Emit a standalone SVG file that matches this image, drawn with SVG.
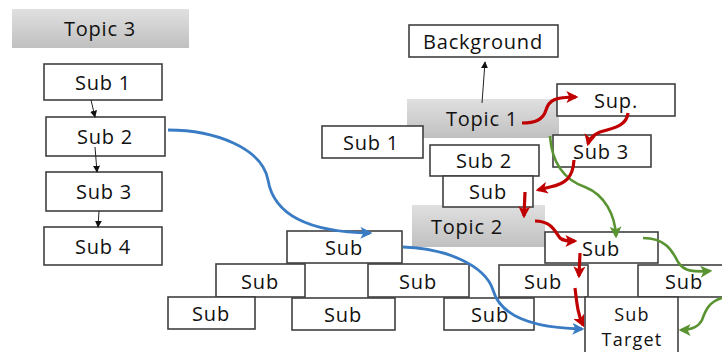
<svg xmlns="http://www.w3.org/2000/svg" width="722" height="352" viewBox="0 0 722 352">
  <defs>
    <linearGradient id="topicFill" x1="0" y1="0" x2="0" y2="1">
      <stop offset="0" stop-color="#e0e0e0"/>
      <stop offset="1" stop-color="#c0c0c0"/>
    </linearGradient>
    <marker id="ahBlack" viewBox="0 0 10 10" refX="9" refY="5" markerWidth="7" markerHeight="7" orient="auto" markerUnits="userSpaceOnUse">
      <path d="M0,0 L10,5 L0,10 z" fill="#111"/>
    </marker>
    <marker id="ahRed" viewBox="0 0 10 10" refX="8" refY="5" markerWidth="12" markerHeight="12" orient="auto" markerUnits="userSpaceOnUse">
      <path d="M0,0 L10,5 L0,10 L2.5,5 z" fill="#c00000"/>
    </marker>
    <marker id="ahGreen" viewBox="0 0 10 10" refX="8" refY="5" markerWidth="12" markerHeight="12" orient="auto" markerUnits="userSpaceOnUse">
      <path d="M0,0 L10,5 L0,10 L2.5,5 z" fill="#5a9432"/>
    </marker>
    <marker id="ahBlue" viewBox="0 0 10 10" refX="8" refY="5" markerWidth="12" markerHeight="12" orient="auto" markerUnits="userSpaceOnUse">
      <path d="M0,0 L10,5 L0,10 L2.5,5 z" fill="#3a7cc4"/>
    </marker>
  </defs>
  <style>
    .box { fill: #ffffff; stroke: #404040; stroke-width: 1.6; }
    .topic { fill: url(#topicFill); stroke: none; }
    .lbl { font-family: "Open Sans", "Liberation Sans", sans-serif; font-size: 20px; letter-spacing: 0.8px; fill: #111111; text-anchor: middle; dominant-baseline: central; }
    .lbl2 { font-size: 18px; letter-spacing: 1.2px; }
    .thin { fill: none; stroke: #222; stroke-width: 1; marker-end: url(#ahBlack); }
    .red { fill: none; stroke: #c00000; stroke-width: 3.2; marker-end: url(#ahRed); }
    .green { fill: none; stroke: #5a9432; stroke-width: 2.6; marker-end: url(#ahGreen); }
    .blue { fill: none; stroke: #3a7cc4; stroke-width: 2.8; marker-end: url(#ahBlue); }
  </style>

  <rect width="722" height="352" fill="#ffffff"/>

  <!-- left column -->
  <g id="topic3"><rect class="topic" x="12" y="9" width="177" height="39"/><text class="lbl" x="100" y="28">Topic 3</text></g>
  <g id="l-sub1"><rect class="box" x="44" y="64" width="118" height="36"/><text class="lbl" x="103" y="82">Sub 1</text></g>
  <g id="l-sub2"><rect class="box" x="46" y="117" width="119" height="39"/><text class="lbl" x="105" y="136">Sub 2</text></g>
  <g id="l-sub3"><rect class="box" x="46" y="172" width="116" height="39"/><text class="lbl" x="104" y="191">Sub 3</text></g>
  <g id="l-sub4"><rect class="box" x="44" y="227" width="118" height="38"/><text class="lbl" x="103" y="246">Sub 4</text></g>

  <!-- upper right cluster -->
  <g id="background"><rect class="box" x="409" y="25" width="149" height="32"/><text class="lbl" x="483" y="41">Background</text></g>
  <g id="topic1"><rect class="topic" x="407" y="99" width="152" height="39"/><text class="lbl" x="482" y="118">Topic 1</text></g>
  <g id="r-sub1"><rect class="box" x="322" y="126" width="101" height="32"/><text class="lbl" x="371" y="142">Sub 1</text></g>
  <g id="sup"><rect class="box" x="557" y="84" width="118" height="32"/><text class="lbl" x="616" y="100">Sup.</text></g>
  <g id="r-sub3"><rect class="box" x="553" y="135" width="98" height="32"/><text class="lbl" x="601" y="151">Sub 3</text></g>
  <g id="m-sub2"><rect class="box" x="430" y="145" width="109" height="31"/><text class="lbl" x="484" y="160">Sub 2</text></g>
  <g id="topic2"><rect class="topic" x="412" y="205" width="133" height="42"/><text class="lbl" x="467" y="226">Topic 2</text></g>
  <g id="m-sub"><rect class="box" x="443" y="176" width="90" height="31"/><text class="lbl" x="488" y="191">Sub</text></g>

  <!-- lower stack -->
  <g id="s-top"><rect class="box" x="287" y="231" width="115" height="32"/><text class="lbl" x="344" y="247">Sub</text></g>
  <g id="s-right"><rect class="box" x="545" y="232" width="113" height="31"/><text class="lbl" x="601" y="248">Sub</text></g>
  <g id="r2-a"><rect class="box" x="216" y="264" width="89" height="33"/><text class="lbl" x="260" y="281">Sub</text></g>
  <g id="r2-b"><rect class="box" x="368" y="264" width="101" height="33"/><text class="lbl" x="418" y="281">Sub</text></g>
  <g id="r2-c"><rect class="box" x="499" y="265" width="89" height="32"/><text class="lbl" x="543" y="281">Sub</text></g>
  <g id="r2-d"><rect class="box" x="638" y="265" width="90" height="32"/><text class="lbl" x="684" y="281">Sub</text></g>
  <g id="r3-a"><rect class="box" x="168" y="297" width="87" height="32"/><text class="lbl" x="211" y="313">Sub</text></g>
  <g id="r3-b"><rect class="box" x="292" y="298" width="103" height="32"/><text class="lbl" x="343" y="314">Sub</text></g>
  <g id="r3-c"><rect class="box" x="444" y="298" width="90" height="32"/><text class="lbl" x="490" y="314">Sub</text></g>
  <g id="target"><rect class="box" x="585" y="297" width="93" height="60"/><text class="lbl lbl2" x="632" y="314">Sub</text><text class="lbl lbl2" x="632" y="339">Target</text></g>

  <!-- connectors -->
  <g id="connectors">
    <path class="thin" d="M91,100 L95,117"/>
    <path class="thin" d="M95,147 L97,172"/>
    <path class="thin" d="M99,211 L98,227"/>
    <path class="thin" d="M482,103 L485,62"/>

    <path class="blue" d="M168,130 C215,130 262,148 268,180 C273,210 300,232 370,233"/>
    <path class="blue" d="M403,247 C445,248 485,265 493,290 C500,315 530,328 582,329"/>

    <path class="green" d="M550,136 C552,165 565,180 585,187 C605,195 615,215 616,236"/>
    <path class="green" d="M643,238 C665,238 672,250 678,262 C684,272 695,272 710,271"/>
    <path class="green" d="M722,298 C708,302 705,312 702,320 C698,328 690,330 681,330"/>

    <path class="red" d="M522,123 C535,123 543,120 546,110 C549,100 555,97 576,97"/>
    <path class="red" d="M628,113 C627,125 615,128 600,132 C593,135 589,140 588,144"/>
    <path class="red" d="M574,160 C573,178 565,184 550,187 L538,190"/>
    <path class="red" d="M525,192 L524,216"/>
    <path class="red" d="M535,221 C552,221 555,232 560,238 C563,241 568,241 575,241"/>
    <path class="red" d="M580,253 L579,276"/>
    <path class="red" d="M575,288 C577,305 578,315 583,325"/>
  </g>
</svg>
